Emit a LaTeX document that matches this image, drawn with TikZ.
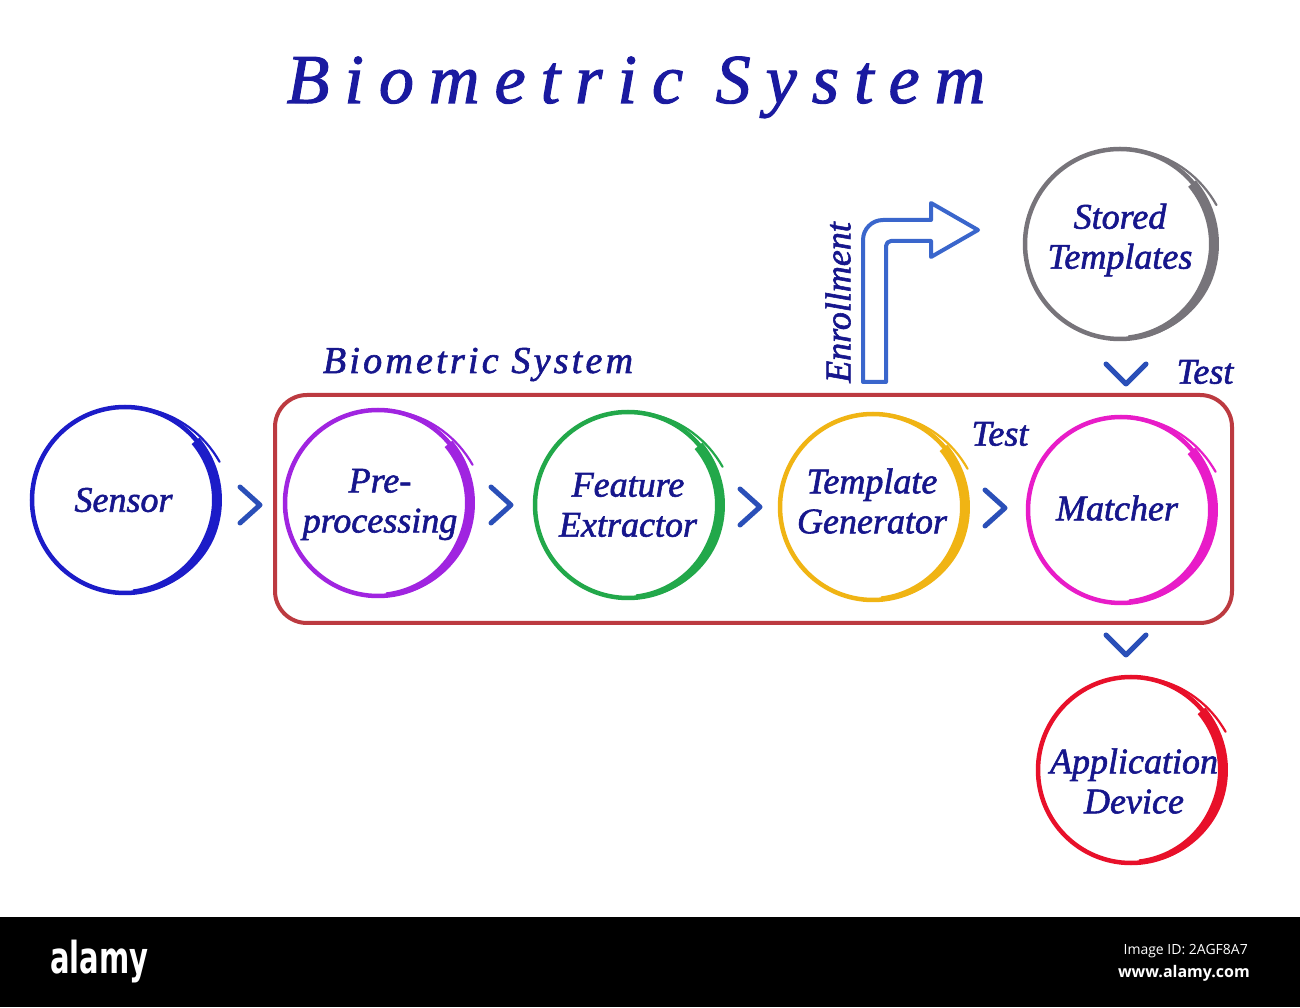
\documentclass[tikz,border=0pt]{standalone}
\usepackage{fontspec}
\setmainfont{Liberation Serif}[FakeBold=1.8]
\newfontfamily\lblfont{Liberation Serif}[ItalicFeatures={FakeBold=1.6}]
\newfontfamily\titlefont{Liberation Serif}[LetterSpace=21.5, ItalicFeatures={FakeBold=1.6}]
\newfontfamily\sublabfont{Liberation Serif}[LetterSpace=8.5, ItalicFeatures={FakeBold=1.6}]
\newfontfamily\wmfont{DejaVu Sans}
\newfontfamily\wmsmall{Open Sans}
\usetikzlibrary{calc}
\definecolor{txt}{HTML}{16168C}
\definecolor{ttl}{HTML}{1A1AA0}
\definecolor{csensor}{HTML}{1C1CC8}
\definecolor{cpre}{HTML}{A024E0}
\definecolor{cfeat}{HTML}{22A84A}
\definecolor{ctempl}{HTML}{F0B414}
\definecolor{cmatch}{HTML}{E81CC8}
\definecolor{cstored}{HTML}{77747A}
\definecolor{capp}{HTML}{E8102A}
\definecolor{cbox}{HTML}{BC3A40}
\definecolor{chevcol}{HTML}{2A4FB8}
\definecolor{carrow}{HTML}{3A66CC}
\newcommand\brushcirc[5]{% name, x, y, r, colour
  \node[circle, inner sep=0pt, minimum size={2*#4pt}] (#1) at (#2,#3) {};
  \begin{scope}[shift={(#2,#3)}]
    \draw[#5, line width=4.5] (0,0) circle (#4);
    \fill[#5] plot[domain=40:-85, samples=40] (\x:{#4-1+2.25+2.75*min(1,(\x+85)/60)})
      -- plot[domain=-85:40, samples=40] (\x:{#4-1-2.25-2.75*min(1,(\x+85)/60)}) -- cycle;
    \draw[#5, line width=2.2, line cap=round] plot[domain=100:22, samples=25] (\x:{#4+9*((100-\x)/78)^2});
  \end{scope}}
\tikzset{
  lbl/.style={text=txt, align=center, inner sep=0pt, font=\lblfont\fontsize{36}{40}\selectfont\itshape},
  chevr/.pic={\draw[chevcol, line width=5, line cap=round, line join=round] (-10,18) -- (10,0) -- (-10,-18);},
  chevd/.pic={\draw[chevcol, line width=5, line cap=round, line join=round] (-20,10) -- (0,-10) -- (20,10);},
}
\begin{document}
\begin{tikzpicture}[x=1pt, y=1pt]
\useasboundingbox (0,0) rectangle (1300,1007);
\fill[white] (0,0) rectangle (1300,1007);
% title
\node[text=ttl, anchor=base, inner sep=0pt, font=\titlefont\fontsize{70}{70}\selectfont\itshape] (title) at (636,904) {Biometric System};
% system box
\node[draw=cbox, line width=4, rounded corners=32, minimum width=957pt, minimum height=228pt, inner sep=0pt] (box) at (753.5,498) {};
\node[text=txt, anchor=base, inner sep=0pt, font=\sublabfont\fontsize{38}{40}\selectfont\itshape] (boxlbl) at (478,634) {Biometric System};
% circles
\brushcirc{sensor}{125}{507}{93}{csensor}
\brushcirc{pre}{378}{504}{93}{cpre}
\brushcirc{feat}{628}{502}{93}{cfeat}
\brushcirc{templ}{873}{500}{93}{ctempl}
\brushcirc{match}{1121}{497}{93}{cmatch}
\brushcirc{stored}{1120}{763}{95}{cstored}
\brushcirc{app}{1131}{237}{93}{capp}
% texts
\node[lbl] (sensorT) at (123.5,507) {Sensor};
\node[lbl] (preT) at (380,502.5) {Pre-\\processing};
\node[lbl] (featT) at (628,502) {Feature\\Extractor};
\node[lbl] (templT) at (872,506) {Template\\Generator};
\node[lbl] (matchT) at (1117,499) {Matcher};
\node[lbl] (storedT) at (1120,767) {Stored\\Templates};
\node[lbl] (appT) at (1134,226) {Application\\Device};
\node[lbl] (test1) at (1205,635) {Test};
\node[lbl] (test2) at (1000,573) {Test};
\node[lbl, rotate=90] (enroll) at (838,704.5) {Enrollment};
% chevrons
\pic at (250,502) {chevr};
\pic at (501,502) {chevr};
\pic at (750,500) {chevr};
\pic at (995,499) {chevr};
\pic at (1126,633) {chevd};
\pic at (1126,362) {chevd};
% enrollment arrow
\draw[carrow, line width=4, line join=round]
  (863,625) -- (863,767) arc[start angle=180, end angle=90, radius=20] -- (931,787) -- (931,804)
  -- (978,777) -- (931,750) -- (931,766) -- (891,766) arc[start angle=90, end angle=180, radius=5] -- (886,625) -- cycle;
% watermark band
\fill[black] (0,0) rectangle (1300,90);
\node[text=white, anchor=base west, inner sep=0pt, font=\wmfont\bfseries\fontsize{44}{44}\selectfont] (wm) at (50,34) {\scalebox{0.66}[1]{alamy}};
\node[text=white, anchor=base east, inner sep=0pt, font=\wmsmall\fontsize{14}{14}\selectfont] (wmid) at (1248,53) {Image ID: 2AGF8A7};
\node[text=white, anchor=base east, inner sep=0pt, font=\wmsmall\bfseries\fontsize{16}{16}\selectfont] (wmurl) at (1250,30) {www.alamy.com};
\end{tikzpicture}
\end{document}
